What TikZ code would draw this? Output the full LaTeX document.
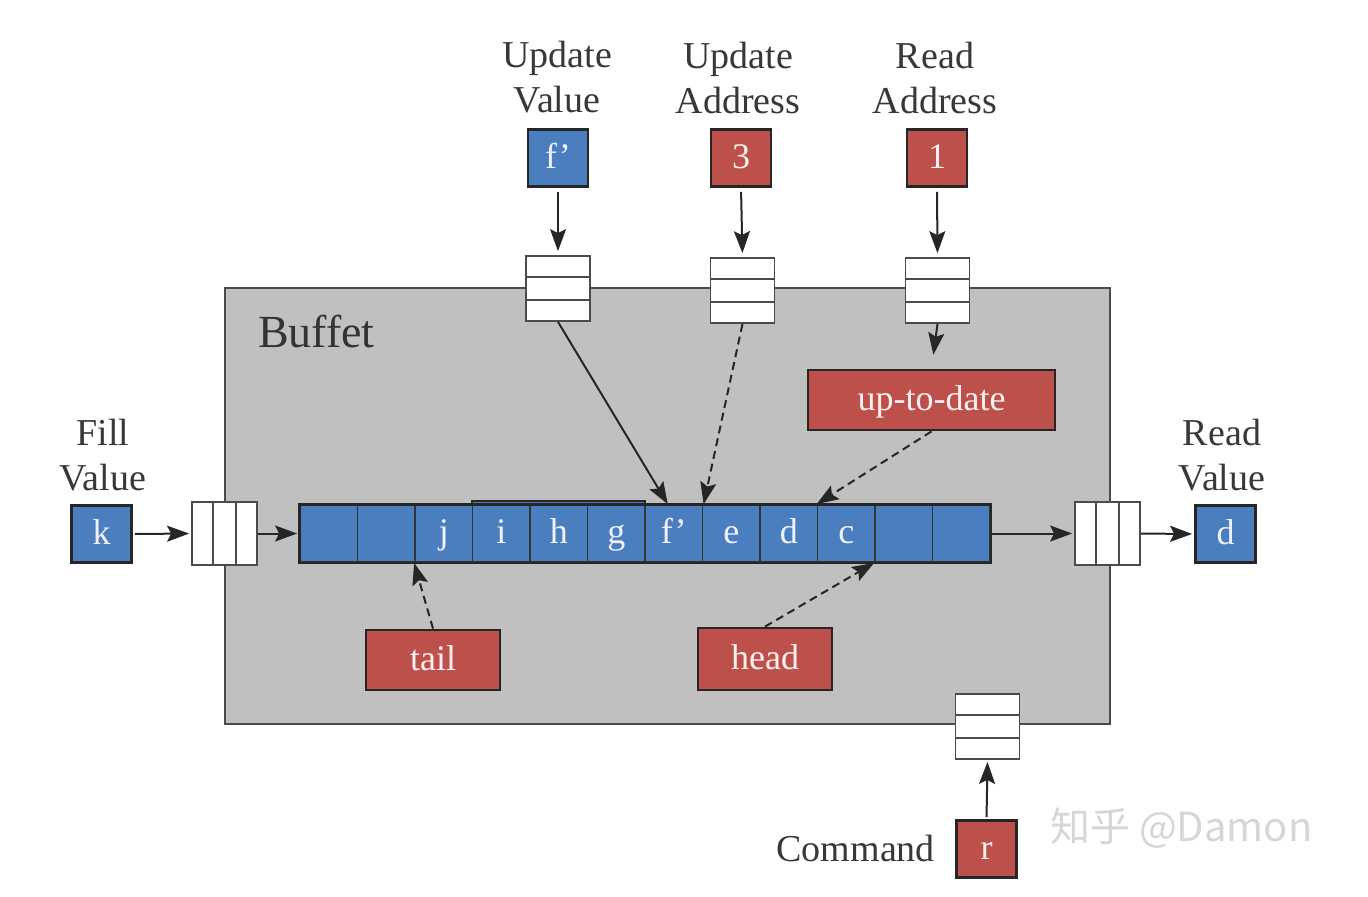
\documentclass[tikz,border=0pt]{standalone}
\usepackage{fontspec}
\setmainfont{Liberation Serif}
\newfontfamily\cjkfont{Noto Sans CJK SC}
\usetikzlibrary{arrows.meta,calc}
\definecolor{cellblue}{RGB}{74,126,191}
\definecolor{tagred}{RGB}{190,80,76}
\definecolor{buffetgray}{RGB}{192,192,192}
\definecolor{edgegray}{RGB}{75,75,75}
\tikzset{
  bluebox/.style={draw=black!85,line width=1.4pt,fill=cellblue,text=blue!6,inner sep=0pt,
    minimum width=30pt,minimum height=28.5pt,text height=13pt,text depth=3pt,
    font=\fontsize{18}{20}\selectfont},
  redbox/.style={bluebox,fill=tagred,text=red!6},
  cell/.style={draw=black!80,line width=0.9pt,fill=cellblue,text=blue!6,inner sep=0pt,
    minimum width=28.75pt,minimum height=28.5pt,text height=13pt,text depth=3pt,
    font=\fontsize{18}{20}\selectfont},
  queue/.style={draw=edgegray,fill=white,line width=0.9pt,inner sep=0pt},
  caption/.style={align=center,text=black!78,font=\fontsize{19}{22.5}\selectfont},
  arr/.style={-{Stealth[length=11pt,width=8pt,inset=2pt]},line width=1pt,draw=black!85},
  dasharr/.style={arr,dash pattern=on 4pt off 2.5pt}
}
\begin{document}
\begin{tikzpicture}[x=0.5pt,y=0.5pt,yscale=-1,xscale=1]
\useasboundingbox (0,0) rectangle (1368,896);

%Shape: Buffet
\draw [draw=edgegray,fill=buffetgray,line width=1.1pt] (225,288) rectangle (1110,724) ;
\node [anchor=west,text=black!80,font=\fontsize{23}{26}\selectfont] (buffet) at (251,332) {Buffet};

%Shape: raised group i h g
\draw [draw=black!85,fill=cellblue,line width=1.3pt] (472,501) rectangle (645,562) ;
% Cells
\foreach \t [count=\i] in {{},{},j,i,h,g,f',e,d,c,{},{}}
  \node [cell] (c\i) at (271.25+57.5*\i,533.5) {\t};
\draw [draw=black!85,line width=1.4pt] (c1.north west) rectangle (c12.south east) ;

% Queues
\node [queue,minimum width=32pt,minimum height=32.5pt] (uq1) at (558,288.5) {};
\node [queue,minimum width=32pt,minimum height=32.5pt] (uq2) at (742.5,290.5) {};
\node [queue,minimum width=32pt,minimum height=32.5pt] (uq3) at (937.5,290.5) {};
\node [queue,minimum width=32pt,minimum height=32.5pt] (cq) at (987.5,726.5) {};
\node [queue,minimum width=32.5pt,minimum height=31.5pt] (lq) at (224.5,533.5) {};
\node [queue,minimum width=32.5pt,minimum height=31.5pt] (rq) at (1107.5,533.5) {};
\foreach \q in {uq1,uq2,uq3,cq} {
  \draw [edgegray,line width=0.9pt] ($(\q.north west)!1/3!(\q.south west)$) -- ($(\q.north east)!1/3!(\q.south east)$) ;
  \draw [edgegray,line width=0.9pt] ($(\q.north west)!2/3!(\q.south west)$) -- ($(\q.north east)!2/3!(\q.south east)$) ;
}
\foreach \q in {lq,rq} {
  \draw [edgegray,line width=0.9pt] ($(\q.north west)!1/3!(\q.north east)$) -- ($(\q.south west)!1/3!(\q.south east)$) ;
  \draw [edgegray,line width=0.9pt] ($(\q.north west)!2/3!(\q.north east)$) -- ($(\q.south west)!2/3!(\q.south east)$) ;
}

% Input and output boxes
\node [bluebox] (fv) at (558,158) {f'};
\node [redbox] (ua) at (741,158) {3};
\node [redbox] (ra) at (937,158) {1};
\node [bluebox] (kv) at (101.5,534) {k};
\node [bluebox] (dv) at (1225.5,534) {d};
\node [redbox] (rv) at (986.5,849) {r};
\node [redbox,minimum width=123.5pt,minimum height=30pt] (utd) at (931.5,400) {up-to-date};
\node [redbox,minimum width=67pt,minimum height=30pt] (tl) at (433,660) {tail};
\node [redbox,minimum width=67pt,minimum height=31pt] (hd) at (765,659) {head};

% Text Node
\node [caption] (fvlab) at (557,77.5) {Update\\Value};
\node [caption] (ualab) at (738,77.5) {Update\\Address};
\node [caption] (ralab) at (935,77.5) {Read\\Address};
\node [caption] (kvlab) at (103,455) {Fill\\Value};
\node [caption] (dvlab) at (1222,455) {Read\\Value};
\node [caption,anchor=east] (cmd) at (942,848) {Command};
\node [anchor=west,text=black!16,font=\cjkfont\fontsize{20}{24}\selectfont] (mark) at (1043,828) {知乎 @Damon};

% Straight Lines
\draw [arr,shorten <=2pt,shorten >=2pt] (fv.south) -- (uq1.north) ;
\draw [arr,shorten <=2pt,shorten >=2pt] (ua.south) -- (uq2.north) ;
\draw [arr,shorten <=2pt,shorten >=2pt] (ra.south) -- (uq3.north) ;
\draw [arr,shorten >=7pt] (uq3.south) -- (utd.north) ;
\draw [arr] (uq1.south) -- ([xshift=-3pt]c7.north) ;
\draw [dasharr] (uq2.south) -- ([xshift=1pt]c8.north west) ;
\draw [dasharr] (utd.south) -- (c10.north west) ;
\draw [dasharr] (tl.north) -- (c3.south west) ;
\draw [dasharr] (hd.north) -- (c11.south west) ;
\draw [arr,shorten <=1pt,shorten >=1pt] (kv.east) -- (lq.west) ;
\draw [arr,shorten >=1pt] (lq.east) -- (c1.west) ;
\draw [arr,shorten >=1pt] (c12.east) -- (rq.west) ;
\draw [arr,shorten >=1pt] (rq.east) -- (dv.west) ;
\draw [arr,shorten <=1pt,shorten >=1pt] (rv.north) -- (cq.south) ;

\end{tikzpicture}
\end{document}
